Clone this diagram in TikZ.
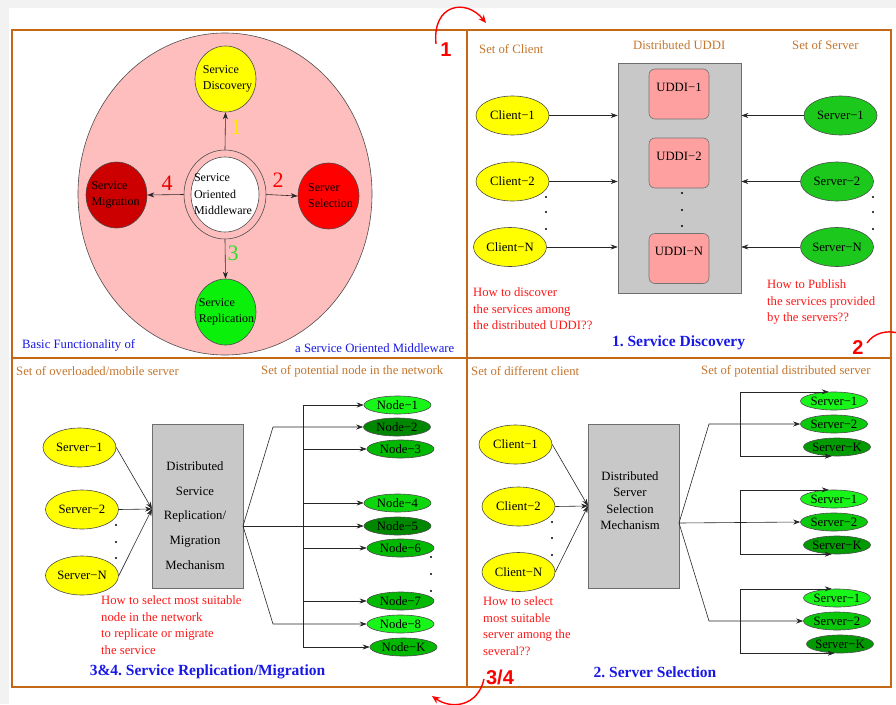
\documentclass[tikz,border=0pt]{standalone}
\usepackage{fontspec}
\setmainfont{Liberation Serif}
\newfontfamily\marksans{Liberation Sans}
\usetikzlibrary{shapes.geometric,arrows.meta}
\frenchspacing

\definecolor{pagegray}{RGB}{242,242,242}
\definecolor{framebrown}{RGB}{196,104,24}
\definecolor{labelbrown}{RGB}{196,118,46}
\definecolor{askred}{RGB}{255,24,24}
\definecolor{titleblue}{RGB}{24,24,230}
\definecolor{ringpink}{RGB}{255,190,190}
\definecolor{uddipink}{RGB}{255,160,160}
\definecolor{boxgray}{RGB}{200,200,200}
\definecolor{boxedge}{RGB}{110,110,110}
\definecolor{cyellow}{RGB}{255,255,0}
\definecolor{numyellow}{RGB}{255,232,0}
\definecolor{numgreen}{RGB}{40,225,40}
\definecolor{gbright}{RGB}{24,245,24}
\definecolor{glight}{RGB}{12,215,12}
\definecolor{gmid}{RGB}{0,185,0}
\definecolor{gdark}{RGB}{0,135,0}
\definecolor{srvtwo}{RGB}{10,200,10}
\definecolor{srvk}{RGB}{0,155,0}
\definecolor{srvgreen}{RGB}{28,200,28}
\definecolor{migred}{RGB}{204,0,0}
\definecolor{selred}{RGB}{255,0,0}
\definecolor{repgreen}{RGB}{10,240,10}

\tikzset{
  every node/.style={inner sep=0pt},
  every label/.style={inner sep=0pt, font=\fontsize{12.7}{15}\selectfont},
  setlbl/.style={font=\fontsize{12.7}{15}\selectfont, text=labelbrown, anchor=west},
  ask/.style={font=\fontsize{12.7}{16.5}\selectfont, text=askred, align=left, anchor=north west},
  title/.style={font=\fontsize{15.5}{18}\selectfont\bfseries, text=titleblue},
  oval/.style={ellipse, draw=black!70, line width=0.6pt},
  bigoval/.style={oval, minimum width=73pt, minimum height=39pt},
  smalloval/.style={oval, minimum width=67pt, minimum height=18pt},
  ringoval/.style={oval, minimum width=61pt, minimum height=66pt},
  mech/.style={draw=boxedge, line width=0.6pt, fill=boxgray},
  uddi/.style={draw=black!55, line width=0.6pt, fill=uddipink, rounded corners=6pt,
    minimum width=60pt, minimum height=50pt},
  arr/.style={draw=black!85, line width=0.6pt, -{Stealth[length=7pt,width=5pt]}},
  wire/.style={draw=black!85, line width=0.6pt},
  frame/.style={draw=framebrown, line width=2.8pt},
  turn/.style={draw=red, line width=1.4pt},
  cornernum/.style={font=\marksans\bfseries\fontsize{20}{20}\selectfont, text=red},
  ringnum/.style={font=\fontsize{22}{22}\selectfont},
  midtxt/.style={font=\fontsize{12.7}{15}\selectfont}
}

\begin{document}
\begin{tikzpicture}[x=1pt,y=-1pt]
% page
\fill[pagegray] (0,0) rectangle (896,704);
\fill[white] (9,8) rectangle (896,704);
\useasboundingbox (0,0) rectangle (896,704);

% ---------------- Basic functionality ----------------
\node[ellipse, fill=ringpink, draw=black!70, line width=0.6pt,
      minimum width=294pt, minimum height=322pt] (ring) at (225,194) {};
\node[ellipse, fill=ringpink, draw=black!70, line width=0.6pt,
      minimum width=82pt, minimum height=89pt] (somring) at (225,194.5) {};
\node[ellipse, fill=white, draw=black!70, line width=0.6pt,
      minimum width=68pt, minimum height=75pt,
      label={[align=left, font=\fontsize{12}{16.5}\selectfont, xshift=-2pt]center:{Service\\Oriented\\Middleware}}]
      (som) at (225,194.5) {};

\node[ringoval, fill=cyellow,
      label={[align=left, font=\fontsize{12}{16}\selectfont, xshift=2pt]center:{Service\\Discovery}}]
      (disc) at (225.5,79) {};
\node[ringoval, fill=selred,
      label={[align=left, font=\fontsize{12}{16}\selectfont, xshift=2pt]center:{Server\\Selection}}]
      (sel) at (328.5,196) {};
\node[ringoval, fill=migred,
      label={[align=left, font=\fontsize{12}{16}\selectfont, xshift=-1pt]center:{Service\\Migration}}]
      (mig) at (116.5,195) {};
\node[ringoval, fill=repgreen,
      label={[align=left, font=\fontsize{12}{16.5}\selectfont, xshift=1pt]center:{Service\\Replication}}]
      (rep) at (225.5,312) {};

\draw[arr] (somring.north) -- (disc.south);
\draw[arr] (somring.east) -- (sel.west);
\draw[arr] (somring.west) -- (mig.east);
\draw[arr] (somring.south) -- (rep.north);

\node[ringnum, text=numyellow] (k1) at (236,127) {1};
\node[ringnum, text=red] (k2) at (278,180) {2};
\node[ringnum, text=numgreen] (k3) at (233,253) {3};
\node[ringnum, text=red!90!black] (k4) at (167,183) {4};

\node[midtxt, text=titleblue, anchor=base west] (bf1) at (22,348) {Basic Functionality of};
\node[midtxt, text=titleblue, anchor=base west] (bf2) at (295,352) {a Service Oriented Middleware};

% ---------------- 1. Service discovery ----------------
\node[setlbl] (lc) at (479,49) {Set of Client};
\node[setlbl] (lu) at (633,45) {Distributed UDDI};
\node[setlbl] (ls) at (792,45) {Set of Server};

\node[mech, minimum width=123pt, minimum height=230pt] (udbox) at (679.5,178) {};
\node[uddi, label={[anchor=north, yshift=-14pt]north:{UDDI−1}}] (u1) at (679,94) {};
\node[uddi, label={[anchor=north, yshift=-14pt]north:{UDDI−2}}] (u2) at (679,163) {};
\node[uddi, label={[anchor=north, yshift=-14pt]north:{UDDI−N}}] (uN) at (679,258.5) {};
\foreach \y in {193,210,226} \fill (682,\y) circle (1.1);

\node[bigoval, fill=cyellow, label=center:{Client−1}] (c1) at (512.5,115.5) {};
\node[bigoval, fill=cyellow, label=center:{Client−2}] (c2) at (512.5,181.5) {};
\node[bigoval, fill=cyellow, label=center:{Client−N}] (cN) at (510,247) {};
\foreach \y in {197,212,229} \fill (546,\y) circle (1.1);

\node[bigoval, fill=srvgreen, label=center:{Server−1}] (s1) at (840.5,115.5) {};
\node[bigoval, fill=srvgreen, label=center:{Server−2}] (s2) at (837,181.5) {};
\node[bigoval, fill=srvgreen, label=center:{Server−N}] (sN) at (837,247) {};
\foreach \y in {197,212,229} \fill (873,\y) circle (1.1);

\draw[arr] (c1.east) -- (c1.east -| udbox.west);
\draw[arr] (c2.east) -- (c2.east -| udbox.west);
\draw[arr] (cN.east) -- (cN.east -| udbox.west);
\draw[arr] (s1.west) -- (s1.west -| udbox.east);
\draw[arr] (s2.west) -- (s2.west -| udbox.east);
\draw[arr] (sN.west) -- (sN.west -| udbox.east);

\node[ask] (q1) at (473,287.5) {How to discover\\the services among\\the distributed UDDI??};
\node[ask] (q2) at (767,279.5) {How to Publish\\the services provided\\by the servers??};
\node[title] (t1) at (678.5,343) {1. Service Discovery};

% ---------------- 3&4. Replication / migration ----------------
\node[setlbl] (lo) at (16,371) {Set of overloaded/mobile server};
\node[setlbl] (lp) at (261,371) {Set of potential node in the network};

\node[bigoval, fill=cyellow, label=center:{Server−1}] (sv1) at (79.5,447.5) {};
\node[bigoval, fill=cyellow, label=center:{Server−2}] (sv2) at (82,509.5) {};
\node[bigoval, fill=cyellow, label=center:{Server−N}] (svN) at (82,575.5) {};
\foreach \y in {525,542,558} \fill (116,\y) circle (1.1);

\node[mech, minimum width=91pt, minimum height=164pt] (mechA) at (197.5,506) {};
\node[font=\fontsize{12.7}{24.75}\selectfont, align=center] (mechAtxt) at (195,515.5)
  {Distributed\\Service\\Replication/\\Migration\\Mechanism};

\coordinate (inA) at (152,509);
\draw[arr] (sv1.east) -- (inA);
\draw[arr] (sv2.east) -- (inA);
\draw[arr] (svN.east) -- (inA);

\node[smalloval, fill=gbright, label=center:{Node−1}] (n1) at (397.5,405) {};
\node[smalloval, fill=gdark,   label=center:{Node−2}] (n2) at (397,427) {};
\node[smalloval, fill=gmid,    label=center:{Node−3}] (n3) at (400.5,449) {};
\node[smalloval, fill=glight,  label=center:{Node−4}] (n4) at (397.5,503) {};
\node[smalloval, fill=gdark,   label=center:{Node−5}] (n5) at (397.5,526) {};
\node[smalloval, fill=gmid,    label=center:{Node−6}] (n6) at (400.5,548) {};
\node[smalloval, fill=gmid,    label=center:{Node−7}] (n7) at (400.5,601) {};
\node[smalloval, fill=gbright, label=center:{Node−8}] (n8) at (400.5,624) {};
\node[smalloval, fill=gmid,    label=center:{Node−K}] (nK) at (403.5,647) {};
\foreach \y in {557,574,591} \fill (431,\y) circle (1.1);

\coordinate (outA) at (243,526);
\coordinate (bendA2) at (273,427);
\coordinate (bendA8) at (273,624);
\draw[arr] (outA) -- (bendA2) -- (n2.west);
\draw[arr] (outA) -- (n5.west);
\draw[arr] (outA) -- (bendA8) -- (n8.west);

\coordinate (bus) at (303,0);
\draw[wire] (n1.west -| bus) -- (nK.west -| bus);
\foreach \n in {n1,n3,n4,n6,n7,nK} \draw[arr] (\n.west -| bus) -- (\n.west);

\node[ask] (q3) at (101,595.5) {How to select most suitable\\node in the network\\to replicate or migrate\\the service};
\node[title] (t3) at (207.5,672) {3\&4. Service Replication/Migration};

% ---------------- 2. Server selection ----------------
\node[setlbl] (ld) at (471,371) {Set of different client};
\node[setlbl] (lq) at (701,371) {Set of potential distributed server};

\node[bigoval, fill=cyellow, label=center:{Client−1}] (cl1) at (515.5,444.5) {};
\node[bigoval, fill=cyellow, label=center:{Client−2}] (cl2) at (518.5,506.5) {};
\node[bigoval, fill=cyellow, label=center:{Client−N}] (clN) at (518.5,572) {};
\foreach \y in {522,538,555} \fill (552,\y) circle (1.1);

\node[mech, minimum width=91pt, minimum height=164pt] (mechB) at (633.5,506) {};
\node[font=\fontsize{12.7}{16.3}\selectfont, align=center] (mechBtxt) at (630,500.5)
  {Distributed\\Server\\Selection\\Mechanism};

\coordinate (inB) at (588,506);
\draw[arr] (cl1.east) -- (inB);
\draw[arr] (cl2.east) -- (inB);
\draw[arr] (clN.east) -- (inB);

\node[smalloval, fill=gbright, label=center:{Server−1}] (g11) at (834,401) {};
\node[smalloval, fill=srvtwo,  label=center:{Server−2}] (g12) at (834,424) {};
\node[smalloval, fill=srvk,    label=center:{Server−K}] (g1K) at (837,447) {};
\node[smalloval, fill=gbright, label=center:{Server−1}] (g21) at (834,499) {};
\node[smalloval, fill=srvtwo,  label=center:{Server−2}] (g22) at (834,522) {};
\node[smalloval, fill=srvk,    label=center:{Server−K}] (g2K) at (837,545) {};
\node[smalloval, fill=gbright, label=center:{Server−1}] (g31) at (837,598) {};
\node[smalloval, fill=srvtwo,  label=center:{Server−2}] (g32) at (837,621) {};
\node[smalloval, fill=srvk,    label=center:{Server−K}] (g3K) at (840,644) {};

\coordinate (outB) at (679,523);
\coordinate (bendB1) at (709,424);
\coordinate (bendB3) at (709,621);
\draw[arr] (outB) -- (bendB1) -- (g12.west);
\draw[arr] (outB) -- (g22.west);
\draw[arr] (outB) -- (bendB3) -- (g32.west);

\coordinate (brk1) at (740,424);
\coordinate (brk2) at (740,522);
\coordinate (brk3) at (740,621);
\draw[arr] (brk1) |- (g11.120);
\draw[arr] (brk1) |- (g1K.240);
\draw[arr] (brk2) |- (g21.120);
\draw[arr] (brk2) |- (g2K.240);
\draw[arr] (brk3) |- (g31.120);
\draw[arr] (brk3) |- (g3K.240);

\node[ask] (q4) at (483,596.5) {How to select\\most suitable\\server among the\\several??};
\node[title] (t2) at (655,672) {2. Server Selection};

% ---------------- frame ----------------
\draw[frame] (12,30) rectangle (891,687);
\draw[frame] (467,30) -- (467,687);
\draw[frame] (12,358) -- (891,358);

% ---------------- turn marks ----------------
\node[cornernum] (m1) at (446,50) {1};
\coordinate (m1a) at (436,44);
\coordinate (m1b) at (486,23);
\draw[turn, -{Stealth[length=8pt,width=7pt]}] (m1a) .. controls (432,4) and (466,-2) .. (m1b);

\node[cornernum] (m2) at (858,348) {2};
\coordinate (m2a) at (867,343);
\coordinate (m2b) at (898,333);
\draw[turn] (m2a) .. controls (874,333) and (886,330) .. (m2b);

\node[cornernum] (m34) at (500,677) {3/4};
\coordinate (m3a) at (484,679);
\coordinate (m3b) at (432,696);
\draw[turn, -{Stealth[length=8pt,width=7pt]}] (m3a) .. controls (478,706) and (452,710) .. (m3b);

\end{tikzpicture}
\end{document}
